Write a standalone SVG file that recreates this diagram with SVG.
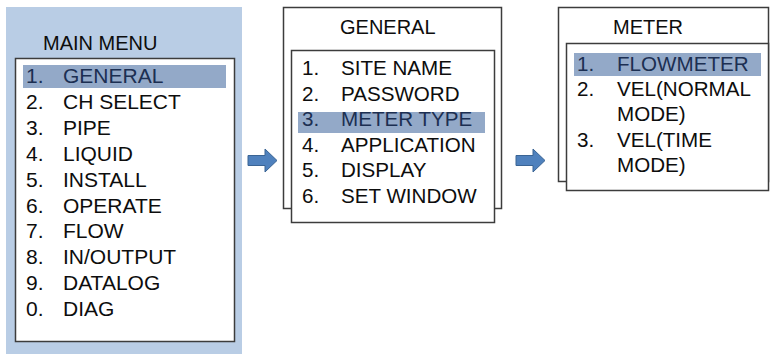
<svg xmlns="http://www.w3.org/2000/svg" width="771" height="354" viewBox="0 0 771 354">
  <style>
    .panel-bg { fill: #b9cde5; }
    .box { fill: #ffffff; stroke: #3c3c3c; stroke-width: 1.5; }
    .sel { fill: #93a9c8; }
    text { font-family: "Liberation Sans", Arial, sans-serif; font-size: 20px; fill: #0d0d0d; }
    .main text { font-size: 21px; }
    .sub text.item { font-size: 20.6px; }
    text.hl { fill: #1c2f52; }
    .arrow { fill: #4f81bd; stroke: #3a6494; stroke-width: 1; }
  </style>
  <defs>
    <path id="block-arrow" d="M0,-5 H17 V-11.5 L29,0 L17,11.5 V5 H0 Z"/>
  </defs>
  <rect width="771" height="354" fill="#ffffff"/>

  <!-- Main menu panel -->
  <g id="main-menu" class="main">
    <rect class="panel-bg" x="6" y="7" width="236" height="347"/>
    <text x="43" y="50" style="font-size:20px">MAIN MENU</text>
    <rect class="box" x="15.5" y="58.5" width="219" height="283"/>
    <rect class="sel" x="23" y="65" width="203" height="23"/>
    <text class="hl" x="26" y="83">1.</text><text class="hl" x="63" y="83">GENERAL</text>
    <text x="26" y="108.9">2.</text><text x="63" y="108.9">CH SELECT</text>
    <text x="26" y="134.8">3.</text><text x="63" y="134.8">PIPE</text>
    <text x="26" y="160.7">4.</text><text x="63" y="160.7">LIQUID</text>
    <text x="26" y="186.6">5.</text><text x="63" y="186.6">INSTALL</text>
    <text x="26" y="212.5">6.</text><text x="63" y="212.5">OPERATE</text>
    <text x="26" y="238.4">7.</text><text x="63" y="238.4">FLOW</text>
    <text x="26" y="264.3">8.</text><text x="63" y="264.3">IN/OUTPUT</text>
    <text x="26" y="290.2">9.</text><text x="63" y="290.2">DATALOG</text>
    <text x="26" y="316.1">0.</text><text x="63" y="316.1">DIAG</text>
  </g>

  <!-- General submenu -->
  <g id="general-menu" class="sub">
    <rect class="box" x="283.5" y="7.5" width="218" height="201"/>
    <text x="340" y="34">GENERAL</text>
    <rect class="box" x="291.5" y="50.5" width="203" height="172"/>
    <rect class="sel" x="298" y="112" width="187" height="21"/>
    <text class="item" x="302" y="75">1.</text><text class="item" x="341" y="75">SITE NAME</text>
    <text class="item" x="302" y="100.6">2.</text><text class="item" x="341" y="100.6">PASSWORD</text>
    <text class="item hl" x="302" y="126.2">3.</text><text class="item hl" x="341" y="126.2">METER TYPE</text>
    <text class="item" x="302" y="151.8">4.</text><text class="item" x="341" y="151.8">APPLICATION</text>
    <text class="item" x="302" y="177.4">5.</text><text class="item" x="341" y="177.4">DISPLAY</text>
    <text class="item" x="302" y="203">6.</text><text class="item" x="341" y="203">SET WINDOW</text>
  </g>

  <!-- Meter type submenu -->
  <g id="meter-menu" class="sub">
    <rect class="box" x="558.5" y="7.5" width="210" height="174"/>
    <text x="613" y="34">METER</text>
    <rect class="box" x="566.5" y="43.5" width="202" height="147"/>
    <rect class="sel" x="574" y="53" width="187" height="23"/>
    <text class="item hl" x="577" y="71">1.</text><text class="item hl" x="617" y="71">FLOWMETER</text>
    <text class="item" x="577" y="96">2.</text><text class="item" x="617" y="96">VEL(NORMAL</text>
    <text class="item" x="617" y="121">MODE)</text>
    <text class="item" x="577" y="147">3.</text><text class="item" x="617" y="147">VEL(TIME</text>
    <text class="item" x="617" y="172">MODE)</text>
  </g>

  <!-- Navigation arrows between menu levels -->
  <g id="connectors">
    <use href="#block-arrow" class="arrow" transform="translate(248,160.5)"/>
    <use href="#block-arrow" class="arrow" transform="translate(516,160.5)"/>
  </g>
</svg>
